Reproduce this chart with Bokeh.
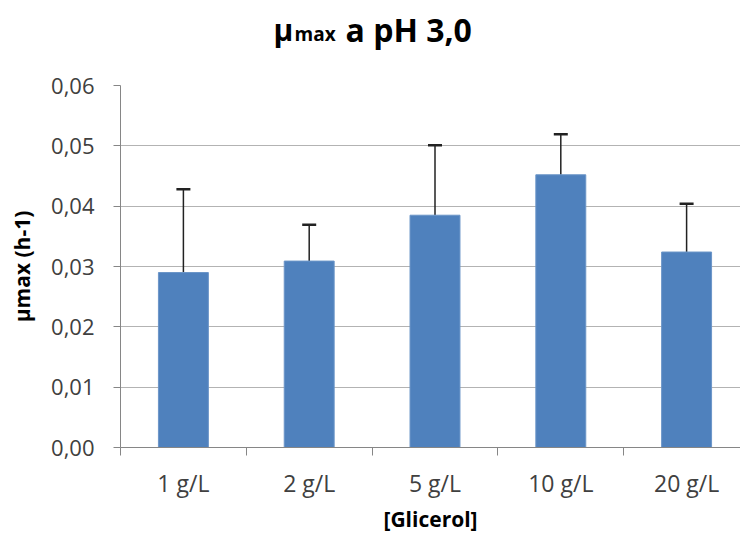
from bokeh.plotting import figure
from bokeh.models import (ColumnDataSource, Range1d, FixedTicker, CustomJSTickFormatter,
                          Whisker, TeeHead, LinearAxis, Grid, Label)
from bokeh.layouts import column
from bokeh.embed import file_html
from bokeh.resources import INLINE

categories = ["1 g/L", "2 g/L", "5 g/L", "10 g/L", "20 g/L"]
mu_max = [0.0290, 0.0309, 0.0385, 0.0452, 0.0324]
err = [0.0138, 0.0060, 0.0116, 0.0067, 0.0080]
y_ticks = [0.00, 0.01, 0.02, 0.03, 0.04, 0.05, 0.06]

xs = [i + 0.5 for i in range(len(categories))]
upper = [m + e for m, e in zip(mu_max, err)]
src = ColumnDataSource(dict(x=xs, top=mu_max, upper=upper, lower=mu_max))

W, H = 740, 535
TITLE_H = 70
FL, FT, FB = 120, 85, 448   # frame left / top / bottom in page pixels

# ---------- title strip (its frame is aligned with the chart frame, starting at FL) ----------
t = figure(width=W, height=TITLE_H, output_backend="svg", toolbar_location=None,
           x_range=Range1d(0, W), y_range=Range1d(0, TITLE_H),
           min_border=0, min_border_left=0, min_border_right=0,
           min_border_top=0, min_border_bottom=0,
           x_axis_type=None, y_axis_type=None)
t.outline_line_color = None
t.xgrid.visible = False
t.ygrid.visible = False
t.background_fill_color = "white"
t.border_fill_color = "white"

def tlabel(txt, px, py, size):
    t.add_layout(Label(x=px - FL, y=TITLE_H - py, x_units="screen", y_units="screen",
                       text=txt, text_font="Open Sans", text_font_style="bold",
                       text_font_size=f"{size}px", text_color="black",
                       text_align="left", text_baseline="alphabetic"))

tlabel("μ", 273, 29, 30)
tlabel("max", 294, 33, 19)
tlabel("a pH 3,0", 345, 29, 32)

# ---------- main chart ----------
main_h = H - TITLE_H
p = figure(width=W, height=main_h, output_backend="svg", toolbar_location=None,
           x_range=Range1d(0, (W - FL) / 125.8), y_range=Range1d(0, 0.06),
           min_border_left=FL, min_border_right=0,
           min_border_top=FT - TITLE_H, min_border_bottom=H - FB,
           x_axis_type=None, y_axis_type=None)
p.outline_line_color = None
p.background_fill_color = "white"
p.border_fill_color = "white"

TICK_FONT = "Open Sans"
yax = LinearAxis(ticker=FixedTicker(ticks=y_ticks, minor_ticks=[]),
                 formatter=CustomJSTickFormatter(code="return tick.toFixed(2).replace('.', ',');"))
yax.axis_line_color = "#868686"
yax.major_tick_line_color = "#868686"
yax.major_tick_out = 7
yax.major_tick_in = 0
yax.minor_tick_line_color = None
yax.major_label_text_font = TICK_FONT
yax.major_label_text_font_size = "22px"
yax.major_label_text_color = "#404040"
yax.major_label_standoff = 19
yax.axis_label = "μmax (h-1)"
yax.axis_label_text_font = "Open Sans"
yax.axis_label_text_font_style = "bold"
yax.axis_label_text_font_size = "21px"
yax.axis_label_text_color = "black"
yax.axis_label_standoff = 12
p.add_layout(yax, "left")

xax = LinearAxis(ticker=FixedTicker(ticks=xs, minor_ticks=list(range(len(categories) + 1))),
                 formatter=CustomJSTickFormatter(args=dict(labels=categories),
                                                 code="const i = Math.floor(tick); return (i >= 0 && i < labels.length) ? labels[i] : '';"))
xax.axis_line_color = "#868686"
xax.major_tick_line_color = None
xax.major_tick_out = 0
xax.major_tick_in = 0
xax.minor_tick_line_color = "#868686"
xax.minor_tick_out = 8
xax.minor_tick_in = 0
xax.major_label_text_font = TICK_FONT
xax.major_label_text_font_size = "23px"
xax.major_label_text_color = "#404040"
xax.major_label_standoff = 11
xax.axis_label = "[Glicerol]"
xax.axis_label_text_font = "Open Sans"
xax.axis_label_text_font_style = "bold"
xax.axis_label_text_font_size = "21px"
xax.axis_label_text_color = "black"
xax.axis_label_standoff = 3
p.add_layout(xax, "below")

p.add_layout(Grid(dimension=1, ticker=yax.ticker, grid_line_color="#b3b3b3", grid_line_width=1))

p.vbar(x="x", top="top", width=0.397, bottom=0, source=src,
       fill_color="#4F81BD", line_color="#6b95c8", line_width=1)

p.add_layout(Whisker(base="x", upper="upper", lower="lower", source=src,
                     line_color="#222222", line_width=1.5,
                     upper_head=TeeHead(size=14, line_color="#222222", line_width=2.5),
                     lower_head=None))

layout = column(t, p, spacing=0)
open("out.html", "w").write(file_html(layout, INLINE))
